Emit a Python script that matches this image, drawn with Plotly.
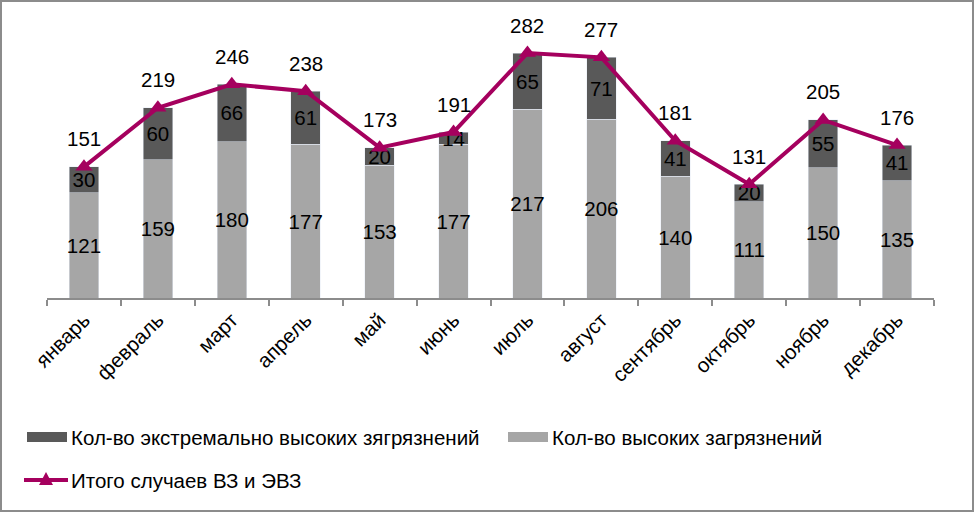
import plotly.graph_objects as go

months = ["январь", "февраль", "март", "апрель", "май", "июнь", "июль",
          "август", "сентябрь", "октябрь", "ноябрь", "декабрь"]
high = [121, 159, 180, 177, 153, 177, 217, 206, 140, 111, 150, 135]
extreme = [30, 60, 66, 61, 20, 14, 65, 71, 41, 20, 55, 41]
total = [151, 219, 246, 238, 173, 191, 282, 277, 181, 131, 205, 176]

name_ext = "Кол-во экстремально высоких зягрязнений"
name_high = "Кол-во высоких загрязнений"
name_tot = "Итого случаев ВЗ и ЭВЗ"

FONT = "Liberation Sans, Arial, sans-serif"
FS = 20.5
W, H = 975, 513
ml, mr, mt, mb = 47, 41, 20, 215
pw, ph = W - ml - mr, H - mt - mb

fig = go.Figure()
fig.add_trace(go.Bar(x=months, y=high, name=name_high, marker_color="#A6A6A6",
                     text=high, textposition="inside", insidetextanchor="middle",
                     textangle=0, constraintext="none",
                     textfont=dict(color="black", size=FS, family=FONT),
                     width=0.4, showlegend=False))
fig.add_trace(go.Bar(x=months, y=extreme, name=name_ext, marker_color="#595959",
                     text=extreme, textposition="inside", insidetextanchor="middle",
                     textangle=0, constraintext="none",
                     textfont=dict(color="black", size=FS, family=FONT),
                     width=0.4, showlegend=False))
fig.add_trace(go.Scatter(x=months, y=total, name=name_tot, mode="lines+markers",
                         line=dict(color="#A5005E", width=4),
                         marker=dict(symbol="triangle-up", size=15, color="#A5005E"),
                         showlegend=False))
for m, t in zip(months, total):
    fig.add_annotation(x=m, y=t, text=str(t), showarrow=False, yshift=28,
                       font=dict(size=FS, color="black", family=FONT))

shapes = []


def px_x(p):
    return (p - ml) / pw


def px_y(p):
    return (H - mb - p) / ph


# manual legend
leg = [("rect", "#595959", 27, 437, name_ext),
       ("rect", "#A6A6A6", 508, 437, name_high),
       ("line", "#A5005E", 27, 480, name_tot)]
for kind, col, x0, yc, name in leg:
    if kind == "rect":
        shapes.append(dict(type="rect", xref="paper", yref="paper",
                           x0=px_x(x0), x1=px_x(x0 + 40), y0=px_y(yc - 5), y1=px_y(yc + 5),
                           fillcolor=col, line=dict(width=0)))
    else:
        shapes.append(dict(type="line", xref="paper", yref="paper",
                           x0=px_x(x0 - 3), x1=px_x(x0 + 41), y0=px_y(yc), y1=px_y(yc),
                           line=dict(color=col, width=4)))
        shapes.append(dict(type="path", xref="paper", yref="paper",
                           path="M {} {} L {} {} L {} {} Z".format(
                               px_x(x0 + 12), px_y(yc + 5), px_x(x0 + 26), px_y(yc + 5),
                               px_x(x0 + 19), px_y(yc - 8)),
                           fillcolor=col, line=dict(width=0)))
    fig.add_annotation(xref="paper", yref="paper", x=px_x(x0 + 42), y=px_y(yc),
                       xanchor="left", yanchor="middle", text=name, showarrow=False,
                       font=dict(size=FS, color="black", family=FONT))

# outer border
shapes.append(dict(type="rect", xref="paper", yref="paper", layer="above",
                   x0=px_x(1), x1=px_x(W - 2), y0=px_y(H - 2), y1=px_y(1),
                   line=dict(color="#8C8C8C", width=2)))

fig.update_layout(
    width=W, height=H, barmode="stack",
    margin=dict(l=ml, r=mr, t=mt, b=mb, autoexpand=False),
    paper_bgcolor="white", plot_bgcolor="white",
    font=dict(family=FONT, size=FS, color="black"),
    showlegend=False, shapes=shapes,
    xaxis=dict(range=[-0.5, 11.5], showline=True, linecolor="#8C8C8C", linewidth=2,
               ticks="outside", tickson="boundaries", tickcolor="#8C8C8C", ticklen=6,
               tickwidth=2, tickangle=-45, tickfont=dict(size=FS, family=FONT),
               showgrid=False, automargin=False),
    yaxis=dict(range=[0, 320], visible=False, showgrid=False, automargin=False),
)
fig.write_html("out.html")
